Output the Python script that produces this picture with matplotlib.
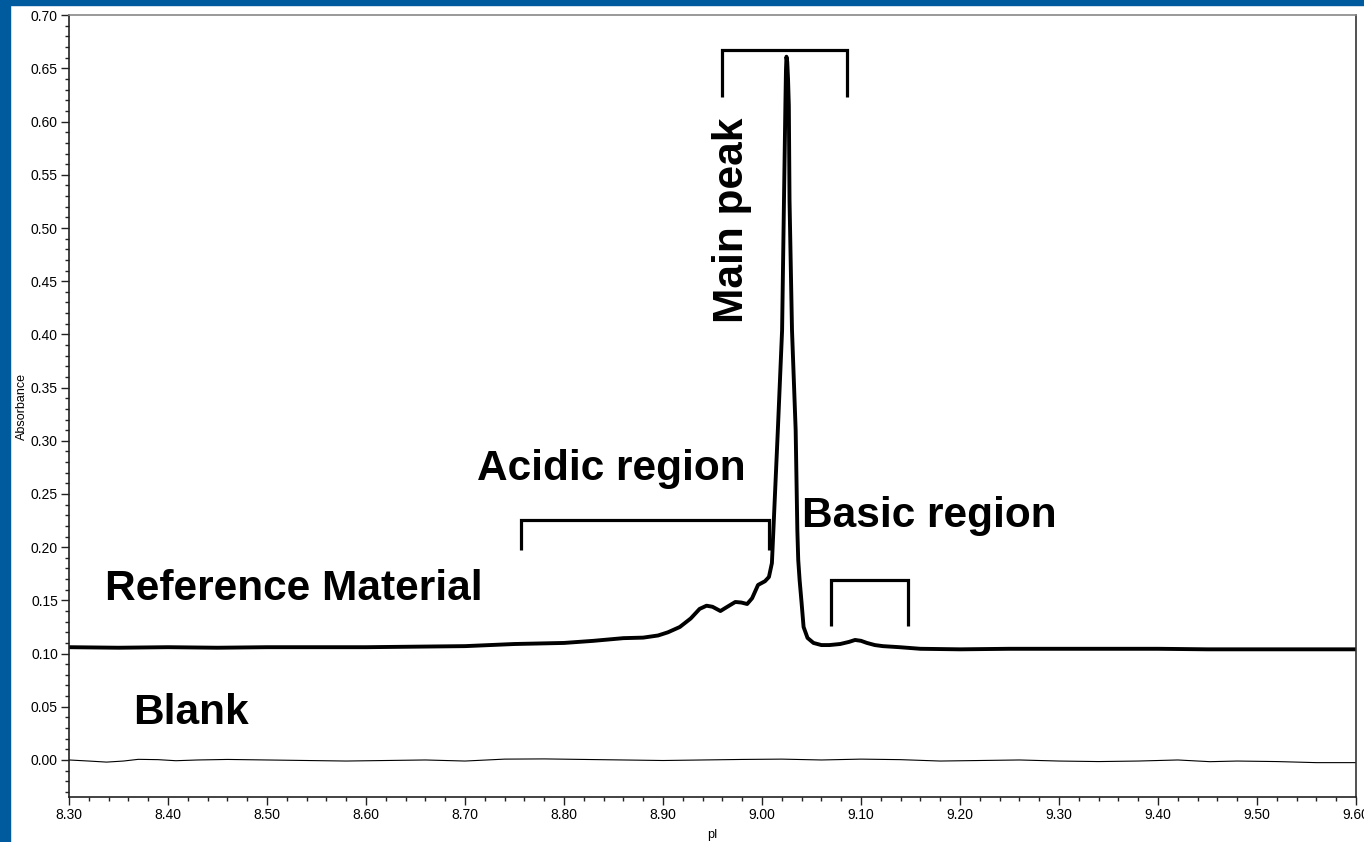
import matplotlib
matplotlib.use("Agg")
import matplotlib.pyplot as plt
from matplotlib.patches import Rectangle
from matplotlib.ticker import MultipleLocator, FormatStrFormatter

plt.rcParams['font.family'] = ['Liberation Sans', 'DejaVu Sans']

# Reference material trace (pI, absorbance)
ref_pi = [8.30, 8.35, 8.40, 8.45, 8.50, 8.55, 8.60, 8.65, 8.70, 8.75, 8.80, 8.83,
          8.86, 8.88, 8.895, 8.905, 8.917, 8.928, 8.937, 8.944, 8.950, 8.958, 8.965,
          8.973, 8.979, 8.985, 8.990, 8.996, 9.003, 9.007, 9.010, 9.0115, 9.016,
          9.0203, 9.0222, 9.0237, 9.0242, 9.0247, 9.0255, 9.0263, 9.0271, 9.0278,
          9.0303, 9.034, 9.0357,
          9.0366, 9.038, 9.040, 9.042, 9.046, 9.052, 9.060, 9.068, 9.079, 9.088,
          9.094, 9.100, 9.106, 9.114, 9.122, 9.139, 9.16, 9.20, 9.25, 9.30, 9.35,
          9.40, 9.45, 9.50, 9.55, 9.60]
ref_abs = [0.106, 0.1055, 0.106, 0.1055, 0.106, 0.106, 0.106, 0.1065, 0.107, 0.109, 0.110, 0.112,
           0.1145, 0.115, 0.117, 0.120, 0.125, 0.133, 0.142, 0.145, 0.144, 0.140, 0.144,
           0.1485, 0.148, 0.1466, 0.152, 0.1645, 0.168, 0.172, 0.185, 0.216, 0.310,
           0.404, 0.526, 0.620, 0.648, 0.661, 0.656, 0.640, 0.615, 0.526,
           0.404, 0.310, 0.216,
           0.188, 0.169, 0.1475, 0.125, 0.1147, 0.110, 0.108, 0.108, 0.109, 0.111,
           0.1128, 0.112, 0.110, 0.108, 0.107, 0.106, 0.1045, 0.104, 0.1045, 0.1045, 0.1045,
           0.1045, 0.104, 0.104, 0.104, 0.104]

# Blank trace
blank_pi = [8.30, 8.32, 8.338, 8.355, 8.37, 8.39, 8.408, 8.43, 8.46, 8.50, 8.54, 8.58,
            8.62, 8.66, 8.70, 8.74, 8.78, 8.82, 8.86, 8.90, 8.94, 8.98, 9.02, 9.06,
            9.10, 9.14, 9.18, 9.22, 9.26, 9.30, 9.34, 9.38, 9.42, 9.4525, 9.48,
            9.52, 9.56, 9.60]
blank_abs = [0.000, -0.001, -0.002, -0.001, 0.0006, 0.0003, -0.0007, 0.000, 0.0005, 0.000, -0.0005, -0.001,
             -0.0005, 0.000, -0.001, 0.0008, 0.001, 0.0005, 0.000, -0.0005, 0.000, 0.0005, 0.0008, 0.000,
             0.0008, 0.0003, -0.001, -0.0005, 0.000, -0.001, -0.0015, -0.001, 0.000, -0.0016, -0.001,
             -0.0015, -0.0025, -0.0025]

x_ticks = [8.30, 8.40, 8.50, 8.60, 8.70, 8.80, 8.90, 9.00, 9.10, 9.20, 9.30, 9.40, 9.50, 9.60]
y_ticks = [0.00, 0.05, 0.10, 0.15, 0.20, 0.25, 0.30, 0.35, 0.40, 0.45, 0.50, 0.55, 0.60, 0.65, 0.70]

# Brackets: (x_left, x_right, y_top, y_bottom_left, y_bottom_right)
main_bracket = (8.960, 9.086, 0.667, 0.623, 0.623)
acidic_bracket = (8.7566, 9.007, 0.2256, 0.197, 0.197)
basic_bracket = (9.070, 9.1475, 0.169, 0.126, 0.126)

fig = plt.figure(figsize=(13.64, 8.42), dpi=100)
fig.patch.set_facecolor('white')
blue = '#005a9e'
fig.patches.append(Rectangle((0, 0), 10 / 1364, 1, transform=fig.transFigure, color=blue, zorder=0))
fig.patches.append(Rectangle((0, 1 - 5 / 842), 1, 5 / 842, transform=fig.transFigure, color=blue, zorder=0))

ax = fig.add_axes([69 / 1364, 1 - 797 / 842, (1356 - 69) / 1364, (797 - 15) / 842])

ax.plot(blank_pi, blank_abs, color='black', lw=0.8)
ax.plot(ref_pi, ref_abs, color='black', lw=2.8, solid_joinstyle='round')

for (xl, xr, yt, ybl, ybr) in [main_bracket, acidic_bracket, basic_bracket]:
    ax.plot([xl, xl, xr, xr], [ybl, yt, yt, ybr], color='black', lw=2.3,
            solid_joinstyle='miter', solid_capstyle='butt')

fs = 30.5
ax.text(8.712, 0.263, 'Acidic region', fontsize=fs, fontweight='bold', ha='left', va='baseline')
ax.text(9.040, 0.219, 'Basic region', fontsize=fs, fontweight='bold', ha='left', va='baseline')
ax.text(8.336, 0.150, 'Reference Material', fontsize=fs, fontweight='bold', ha='left', va='baseline')
ax.text(8.365, 0.034, 'Blank', fontsize=fs, fontweight='bold', ha='left', va='baseline')
ax.text(8.9697, 0.5075, 'Main peak', fontsize=fs, fontweight='bold', ha='center', va='center', rotation=90)

ax.set_xlim(8.30, 9.60)
ax.set_ylim(-0.0348, 0.7002)
ax.set_xticks(x_ticks)
ax.set_yticks(y_ticks)
ax.xaxis.set_major_formatter(FormatStrFormatter('%.2f'))
ax.yaxis.set_major_formatter(FormatStrFormatter('%.2f'))
ax.xaxis.set_minor_locator(MultipleLocator(0.02))
ax.yaxis.set_minor_locator(MultipleLocator(0.01))
ax.tick_params(which='major', length=6, width=1, labelsize=10, pad=2, color='#222222')
ax.tick_params(which='minor', length=3, width=1, color='#222222')

ax.spines['top'].set_color('#888888')
ax.spines['right'].set_color('#333333')
ax.spines['left'].set_color('#222222')
ax.spines['bottom'].set_color('#222222')
for s in ax.spines.values():
    s.set_linewidth(1.2)

ax.set_ylabel('Absorbance', fontsize=9, labelpad=2)
ax.set_xlabel('pI', fontsize=9, labelpad=5)

fig.savefig('out.png', dpi=100)
